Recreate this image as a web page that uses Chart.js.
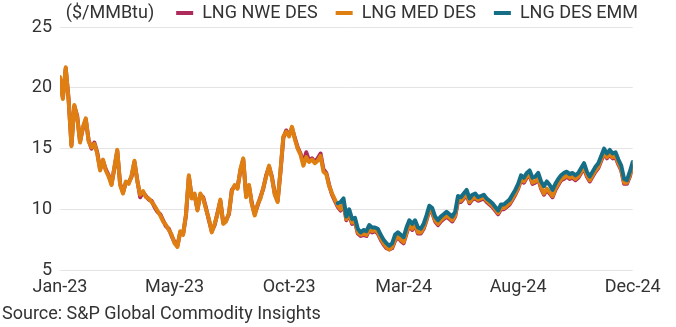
<!DOCTYPE html>
<html>
<head>
<meta charset="utf-8">
<script src="https://cdn.jsdelivr.net/npm/chart.js@4.4.1/dist/chart.umd.min.js"></script>
<style>
  html, body { margin: 0; padding: 0; background: #fff; }
</style>
</head>
<body>
<canvas id="lngChart" width="676" height="327"></canvas>
<script>
// x axis runs over sample index; every 40th sample gets a month label
var tickLabels = ['Jan-23', 'May-23', 'Oct-23', 'Mar-24', 'Aug-24', 'Dec-24'];
var tickStep = 40;

var seriesNames = ['LNG NWE DES', 'LNG MED DES', 'LNG DES EMM'];

var nweDes = [
  20.8, 19.2, 21.6, 19.1, 15.3, 18.5, 17.7, 15.6, 16.7, 17.4,
  15.7, 15.0, 15.5, 14.7, 13.3, 14.0, 13.3, 12.8, 12.1, 13.4,
  14.8, 12.1, 11.4, 12.2, 12.2, 12.7, 13.9, 12.4, 11.0, 11.4,
  11.1, 10.8, 10.7, 10.2, 9.8, 9.6, 9.1, 8.6, 8.4, 7.8,
  7.3, 7.0, 8.1, 8.0, 9.5, 12.7, 11.0, 11.2, 10.0, 11.2,
  11.0, 10.1, 9.1, 8.2, 8.7, 9.7, 10.7, 8.9, 9.1, 9.6,
  11.6, 11.9, 11.8, 13.2, 14.1, 11.1, 11.9, 10.5, 9.6, 10.3,
  11.0, 11.7, 12.8, 13.5, 12.7, 11.3, 10.7, 13.1, 15.9, 16.5,
  16.1, 16.7, 15.9, 15.1, 14.6, 13.8, 14.7, 14.0, 14.2, 13.9,
  14.2, 14.6, 13.3, 13.0, 12.0, 11.2, 10.7, 10.2, 9.9, 10.5,
  9.1, 9.6, 8.8, 9.0, 8.0, 7.8, 7.9, 7.8, 8.3, 8.1,
  8.2, 8.0, 7.5, 7.1, 6.8, 6.7, 6.8, 7.4, 7.7, 7.4,
  7.2, 8.0, 8.7, 8.3, 8.7, 8.0, 8.0, 8.4, 9.1, 9.9,
  9.7, 9.0, 8.7, 9.0, 9.2, 9.4, 9.2, 9.0, 9.4, 10.7,
  10.6, 10.9, 11.2, 10.5, 10.8, 10.9, 10.7, 10.8, 10.9, 10.6,
  10.4, 10.2, 9.9, 9.6, 10.0, 10.0, 10.2, 10.4, 10.8, 11.2,
  11.7, 12.4, 12.2, 12.6, 12.8, 12.1, 12.2, 12.5, 11.7, 11.2,
  11.6, 11.3, 11.0, 11.6, 12.0, 12.4, 12.5, 12.7, 12.5, 12.6,
  12.4, 12.6, 13.0, 13.4, 12.7, 12.3, 12.7, 13.1, 13.4, 14.0,
  14.6, 14.2, 14.5, 14.2, 14.3, 13.7, 13.2, 12.1, 12.1, 12.7,
  13.5
];

var medDes = [
  20.9, 19.1, 21.7, 19.0, 15.2, 18.6, 17.6, 15.5, 16.8, 17.5,
  15.6, 15.1, 15.4, 14.6, 13.2, 14.1, 13.2, 12.7, 12.0, 13.5,
  14.9, 12.0, 11.3, 12.3, 12.1, 12.8, 14.0, 12.3, 11.2, 11.5,
  11.0, 10.9, 10.6, 10.3, 9.9, 9.5, 9.0, 8.7, 8.3, 7.9,
  7.2, 6.9, 8.2, 7.9, 9.6, 12.8, 10.9, 11.3, 9.9, 11.3,
  10.9, 10.0, 9.2, 8.1, 8.8, 9.6, 10.8, 8.8, 9.0, 9.7,
  11.5, 12.0, 11.7, 13.3, 14.2, 11.0, 12.0, 10.4, 9.5, 10.4,
  10.9, 11.8, 12.7, 13.6, 12.6, 11.2, 10.6, 13.2, 16.0, 16.4,
  16.0, 16.8, 15.8, 15.0, 14.5, 13.6, 14.3, 13.9, 14.1, 13.8,
  14.0, 14.4, 13.1, 12.9, 11.9, 11.3, 10.8, 10.3, 10.0, 10.6,
  9.2, 9.7, 8.9, 9.1, 8.1, 7.9, 8.0, 7.9, 8.4, 8.2,
  8.3, 8.1, 7.6, 7.2, 6.9, 6.7, 6.9, 7.5, 7.8, 7.5,
  7.3, 8.1, 8.8, 8.4, 8.8, 8.1, 8.1, 8.5, 9.2, 10.0,
  9.8, 9.1, 8.8, 9.1, 9.3, 9.5, 9.3, 9.1, 9.5, 10.8,
  10.7, 11.0, 11.3, 10.6, 10.9, 11.0, 10.8, 10.9, 11.0, 10.7,
  10.5, 10.3, 10.0, 9.7, 10.1, 10.1, 10.3, 10.5, 10.9, 11.3,
  11.8, 12.5, 12.3, 12.7, 12.9, 12.2, 12.3, 12.6, 11.8, 11.3,
  11.7, 11.4, 11.1, 11.7, 12.1, 12.5, 12.6, 12.8, 12.6, 12.7,
  12.5, 12.7, 13.1, 13.5, 12.8, 12.4, 12.8, 13.2, 13.5, 14.1,
  14.7, 14.3, 14.6, 14.3, 14.4, 13.8, 13.3, 12.2, 12.2, 12.8,
  13.6
];

// EMM assessment only begins late in 2023
var emmStart = 97;
var emmDes = [
  10.5, 10.6, 10.9,
  9.4, 10.0, 9.2, 9.3, 8.4, 8.1, 8.3, 8.2, 8.7, 8.5,
  8.5, 8.4, 7.9, 7.5, 7.2, 7.0, 7.2, 7.9, 8.1, 7.9,
  7.7, 8.5, 9.1, 8.8, 9.1, 8.5, 8.4, 8.8, 9.5, 10.3,
  10.1, 9.4, 9.1, 9.4, 9.6, 9.8, 9.6, 9.4, 9.8, 11.1,
  11.0, 11.3, 11.6, 10.9, 11.2, 11.3, 11.0, 11.1, 11.2, 10.9,
  10.7, 10.5, 10.2, 9.9, 10.4, 10.4, 10.6, 10.8, 11.2, 11.6,
  12.1, 12.8, 12.6, 13.0, 13.2, 12.6, 12.7, 13.0, 12.3, 11.9,
  12.3, 12.0, 11.6, 12.1, 12.5, 12.8, 13.0, 13.1, 12.9, 13.0,
  12.8, 13.0, 13.4, 13.8, 13.1, 12.7, 13.1, 13.5, 13.8, 14.4,
  15.0, 14.6, 14.9, 14.6, 14.7, 14.1, 13.6, 12.5, 12.4, 13.1,
  13.9
];

var unitText = '($/MMBtu)';
var sourceText = 'Source: S&P Global Commodity Insights';

var fontFamily = 'Roboto, "Liberation Sans", sans-serif';
var fontSize = 18;
var textColor = '#333333';
var colors = ['#ad2a5b', '#df7f12', '#156e85'];

function toPoints(values, start) {
  return values.map(function (v, i) { return { x: start + i, y: v }; });
}

Chart.defaults.font.family = fontFamily;
Chart.defaults.font.size = fontSize;
Chart.defaults.color = textColor;

// legend row is shorter than Chart.js would make it with wide item padding
var legendHeight = 41.3;
var legendFit = {
  id: 'legendFit',
  afterInit: function (chart) {
    if (!chart.legend) return;
    var fit = chart.legend.fit;
    chart.legend.fit = function () {
      fit.call(this);
      this.height = legendHeight;
    };
  }
};

// unit label sits on the legend row, left of the first item
var unitLabel = {
  id: 'unitLabel',
  afterDraw: function (chart) {
    var box = chart.legend.legendHitBoxes[0];
    var ctx = chart.ctx;
    ctx.save();
    ctx.font = fontSize + 'px ' + fontFamily;
    ctx.fillStyle = textColor;
    ctx.textAlign = 'right';
    ctx.textBaseline = 'middle';
    ctx.fillText(unitText, box.left - 22, box.top + box.height / 2);
    ctx.restore();
  }
};

var ctx = document.getElementById('lngChart').getContext('2d');

var chartConfig = {
  type: 'line',
  data: {
    datasets: [{
      label: seriesNames[0],
      data: toPoints(nweDes, 0),
      borderColor: colors[0],
      backgroundColor: colors[0],
      order: 3
    }, {
      label: seriesNames[1],
      data: toPoints(medDes, 0),
      borderColor: colors[1],
      backgroundColor: colors[1],
      order: 2
    }, {
      label: seriesNames[2],
      data: toPoints(emmDes, emmStart),
      borderColor: colors[2],
      backgroundColor: colors[2],
      order: 1
    }]
  },
  options: {
    responsive: false,
    animation: false,
    events: [],
    elements: {
      line: { borderWidth: 4, tension: 0, borderJoinStyle: 'round', borderCapStyle: 'round' },
      point: { radius: 0 }
    },
    layout: {
      padding: { top: -14, right: 20, left: 2, bottom: 0 }
    },
    scales: {
      x: {
        type: 'linear',
        min: 0,
        max: 200,
        grid: { display: false, drawTicks: false },
        border: { display: false },
        ticks: {
          stepSize: tickStep,
          padding: 6.2,
          maxRotation: 0,
          autoSkip: false,
          callback: function (value) {
            return value % tickStep === 0 ? tickLabels[value / tickStep] : '';
          }
        },
        afterFit: function (scale) {
          scale.paddingLeft = 0;
          scale.paddingRight = 43.3;
        }
      },
      y: {
        min: 5,
        max: 25,
        grid: { color: '#e4e4e4', lineWidth: 1, drawTicks: false },
        border: { display: false },
        ticks: { stepSize: 5, padding: 8 },
        afterFit: function (scale) {
          scale.width = 58;
        }
      }
    },
    plugins: {
      legend: {
        position: 'top',
        align: 'end',
        reverse: true,
        labels: {
          boxWidth: 17,
          boxHeight: 4,
          padding: 18,
          color: textColor,
          font: { size: fontSize },
          generateLabels: function (chart) {
            var items = Chart.defaults.plugins.legend.labels.generateLabels(chart);
            items.forEach(function (item) { item.lineWidth = 0; });
            return items;
          }
        }
      },
      title: {
        display: true,
        position: 'bottom',
        align: 'start',
        text: sourceText,
        color: textColor,
        font: { size: fontSize, weight: 'normal' },
        padding: { top: 0, bottom: 1.4 }
      },
      tooltip: { enabled: false }
    }
  },
  plugins: [legendFit, unitLabel]
};

var chartObject = new Chart(ctx, chartConfig);
</script>
</body>
</html>
